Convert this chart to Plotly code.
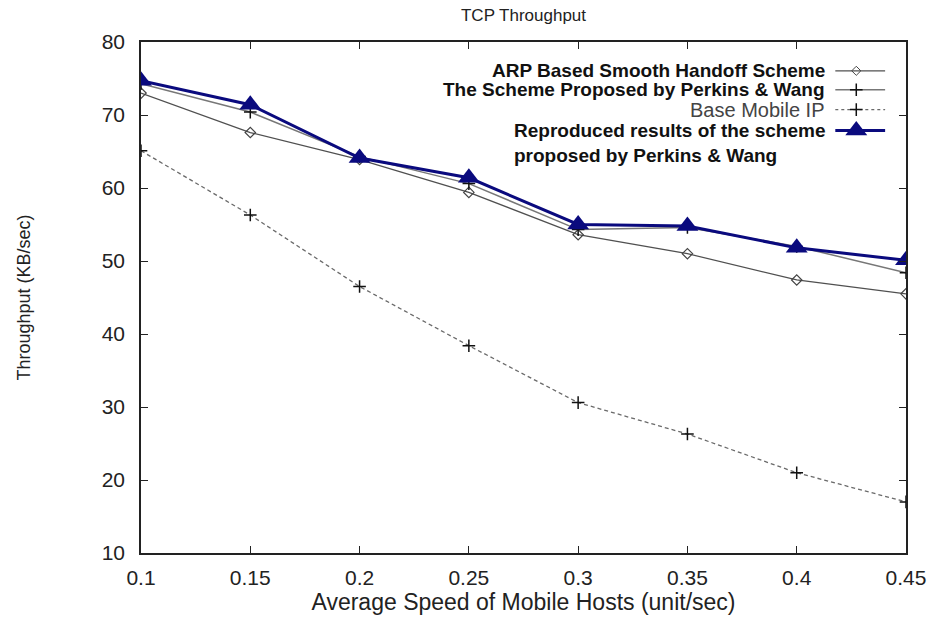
import plotly.graph_objects as go

# Average speed of mobile hosts (unit/sec)
speed = [0.10, 0.15, 0.20, 0.25, 0.30, 0.35, 0.40, 0.45]

# TCP throughput (KB/sec) per scheme
arp_smooth = [73.0, 67.6, 63.9, 59.4, 53.6, 51.0, 47.4, 45.5]
perkins_wang = [74.3, 70.4, 64.3, 60.6, 54.3, 54.6, 52.0, 48.4]
base_mobile_ip = [65.1, 56.3, 46.5, 38.4, 30.6, 26.3, 21.0, 17.0]
reproduced = [74.7, 71.4, 64.1, 61.4, 55.0, 54.8, 51.8, 50.1]

x_ticks = [0.1, 0.15, 0.2, 0.25, 0.3, 0.35, 0.4, 0.45]
y_ticks = [10, 20, 30, 40, 50, 60, 70, 80]

legend_labels = [
    "<b>ARP Based Smooth Handoff Scheme</b>",
    "<b>The Scheme Proposed by Perkins & Wang</b>",
    "Base Mobile IP",
    "<b>Reproduced results of the scheme<br>proposed by Perkins & Wang</b>",
]

NAVY = "#0a0a7e"
FONT = "Liberation Sans, Arial, sans-serif"

fig = go.Figure()

fig.add_trace(go.Scatter(
    x=speed, y=base_mobile_ip, mode="lines+markers",
    line=dict(color="#6a6a6a", width=1.3, dash="4px,3px"),
    marker=dict(symbol="cross-thin", size=9, line=dict(color="#111", width=1.5)),
    showlegend=False,
))
fig.add_trace(go.Scatter(
    x=speed, y=arp_smooth, mode="lines+markers",
    line=dict(color="#505050", width=1.3),
    marker=dict(symbol="diamond-open", size=8, color="#444", line=dict(width=1.2)),
    showlegend=False,
))
fig.add_trace(go.Scatter(
    x=speed, y=perkins_wang, mode="lines+markers",
    line=dict(color="#777", width=1.5),
    marker=dict(symbol="cross-thin", size=9, line=dict(color="#111", width=1.5)),
    showlegend=False,
))
fig.add_trace(go.Scatter(
    x=speed, y=reproduced, mode="lines+markers",
    line=dict(color=NAVY, width=3),
    marker=dict(symbol="triangle-up", size=19, color=NAVY),
    showlegend=False,
))

# Key drawn gnuplot-style: right-aligned labels followed by a line sample
key_rows = [0.9436, 0.9066, 0.8677, 0.8268]
key_x0, key_x1, key_mark = 0.9076, 0.9727, 0.9350
key_styles = [
    dict(line=dict(color="#505050", width=1.3),
         marker=dict(symbol="diamond-open", size=7, color="#444")),
    dict(line=dict(color="#777", width=1.5),
         marker=dict(symbol="cross-thin", size=9, line=dict(color="#111", width=1.5))),
    dict(line=dict(color="#6a6a6a", width=1.3, dash="3px,3px"),
         marker=dict(symbol="cross-thin", size=9, line=dict(color="#111", width=1.5))),
    dict(line=dict(color=NAVY, width=3),
         marker=dict(symbol="triangle-up", size=19, color=NAVY)),
]
for row, style in zip(key_rows, key_styles):
    fig.add_trace(go.Scatter(
        x=[key_x0, key_x1], y=[row, row], mode="lines", xaxis="x2", yaxis="y2",
        line=style["line"], showlegend=False, hoverinfo="skip",
    ))
    fig.add_trace(go.Scatter(
        x=[key_mark], y=[row], mode="markers", xaxis="x2", yaxis="y2",
        marker=style["marker"], showlegend=False, hoverinfo="skip",
    ))

for i, (row, label) in enumerate(zip(key_rows, legend_labels)):
    multi = "<br>" in label
    fig.add_annotation(
        x=0.8971, y=row, xref="paper", yref="paper",
        text=label, showarrow=False, xanchor="right",
        yanchor="top" if multi else "middle",
        yshift=13 if multi else 0,
        align="left",
        font=dict(family=FONT, size=20 if i == 2 else 19,
                  color="#444" if i == 2 else "#111"),
    )

axis_common = dict(
    showline=True, linecolor="#222", linewidth=1.5, mirror="ticks",
    ticks="inside", ticklen=7, tickwidth=1.3, tickcolor="#222",
    showgrid=False, zeroline=False,
    tickfont=dict(family=FONT, size=21, color="#222"),
)

fig.update_layout(
    width=938, height=617,
    margin=dict(l=141, r=29, t=42, b=61),
    paper_bgcolor="white", plot_bgcolor="white",
    title=dict(text="TCP Throughput", x=0.5, xref="paper", y=0.985, yanchor="top",
               font=dict(family=FONT, size=17, color="#222")),
    xaxis=dict(range=[0.1, 0.45], tickvals=x_ticks, ticktext=[f"{v:g}" for v in x_ticks],
               ticklabelstandoff=5,
               title=dict(text="Average Speed of Mobile Hosts (unit/sec)", standoff=0,
                          font=dict(family=FONT, size=23, color="#222")),
               **axis_common),
    yaxis=dict(range=[10, 80], tickvals=y_ticks,
               ticklabelstandoff=10,
               title=dict(text="Throughput (KB/sec)", standoff=66,
                          font=dict(family=FONT, size=18, color="#222")),
               **axis_common),
    xaxis2=dict(range=[0, 1], overlaying="x", visible=False, fixedrange=True),
    yaxis2=dict(range=[0, 1], overlaying="y", visible=False, fixedrange=True),
)

fig.write_html("out.html")
